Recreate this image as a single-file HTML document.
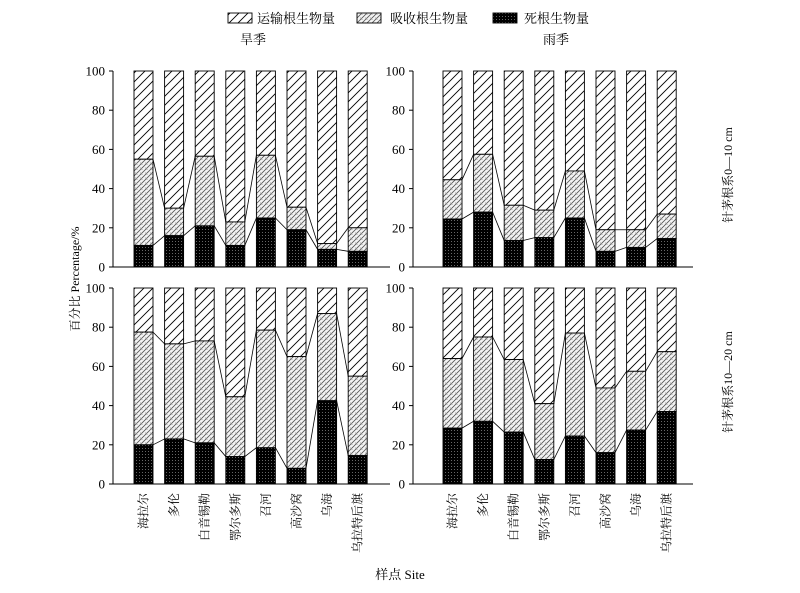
<!DOCTYPE html>
<html><head><meta charset="utf-8"><style>
body{margin:0;background:#fff;}
svg text{font-family:"Liberation Serif","Noto Serif CJK SC",serif;fill:#000;}
</style></head><body>
<svg id="chart" width="800" height="588" viewBox="0 0 800 588" xmlns="http://www.w3.org/2000/svg">
<defs>
<pattern id="pTrans" patternUnits="userSpaceOnUse" width="9" height="9" patternTransform="rotate(0)">
<rect width="9" height="9" fill="#fff"/>
<path d="M0,9 L9,0 M-2,2 L2,-2 M7,11 L11,7" stroke="#000" stroke-width="0.9"/>
</pattern>
<pattern id="pAbs" patternUnits="userSpaceOnUse" width="5" height="5">
<rect width="5" height="5" fill="#f4f4f4"/>
<path d="M0,5 L5,0 M-1,1 L1,-1 M4,6 L6,4" stroke="#555" stroke-width="0.8"/>
<path d="M0,2.5 L2.5,5" stroke="#999" stroke-width="0.6"/>
</pattern>
<pattern id="pDead" patternUnits="userSpaceOnUse" width="3" height="3">
<rect width="3" height="3" fill="#000"/>
<rect x="1" y="1" width="1" height="1" fill="#666"/>
</pattern>
</defs>
<g id="g"></g>
</svg>
<script>
const categories=["海拉尔","多伦","白音锡勒","鄂尔多斯","召河","高沙窝","乌海","乌拉特后旗"];
const yTicks=[0,20,40,60,80,100];
const dryTopDead=[11,16,21,11,25,19,9,8];
const dryTopCum=[55,30,56.5,23,57,30.5,12,20];
const wetTopDead=[24.5,28,13.5,15,25,8,10,14.5];
const wetTopCum=[44.5,57.5,31.5,29,49,19,19,27];
const dryBotDead=[20,23,21,14,18.5,8,42.5,14.5];
const dryBotCum=[77.5,71.5,73,44.5,78.5,65,87,55];
const wetBotDead=[28.5,32,26.5,12.5,24.5,16,27.5,37];
const wetBotCum=[64,75,63.5,41,77,49,57.5,67.5];

const NS="http://www.w3.org/2000/svg";
const root=document.getElementById('g');
function mk(tag,attrs,parent){const e=document.createElementNS(NS,tag);for(const k in attrs)e.setAttribute(k,attrs[k]);(parent||root).appendChild(e);return e;}

const panels=[
 {id:'dry-0-10',ax:113,x0:143.5,y100:71,y0:267,dead:dryTopDead,cum:dryTopCum,xend:390},
 {id:'wet-0-10',ax:413,x0:452.5,y100:71,y0:267,dead:wetTopDead,cum:wetTopCum,xend:693},
 {id:'dry-10-20',ax:113,x0:143.5,y100:288,y0:484,dead:dryBotDead,cum:dryBotCum,xend:390},
 {id:'wet-10-20',ax:413,x0:452.5,y100:288,y0:484,dead:wetBotDead,cum:wetBotCum,xend:693}
];
const step=30.6,bw=19;
panels.forEach((p,pi)=>{
 const grp=mk('g',{});
 
 
 const ys=v=>p.y0-(p.y0-p.y100)*v/100;
 const xs=i=>p.x0+i*step;
 categories.forEach((c,i)=>{
  const x=xs(i)-bw/2;
  const r1=mk('rect',{x:x,y:ys(100),width:bw,height:ys(p.cum[i])-ys(100),fill:'url(#pTrans)',stroke:'#000','stroke-width':0.9},grp);
  
  
  const r2=mk('rect',{x:x,y:ys(p.cum[i]),width:bw,height:ys(p.dead[i])-ys(p.cum[i]),fill:'url(#pAbs)',stroke:'#000','stroke-width':0.9},grp);
  
  
  const r3=mk('rect',{x:x,y:ys(p.dead[i]),width:bw,height:p.y0-ys(p.dead[i]),fill:'url(#pDead)',stroke:'#000','stroke-width':0.9},grp);
  
  
  if(i<categories.length-1){
   const l1=mk('line',{x1:x+bw,y1:ys(p.cum[i]),x2:xs(i+1)-bw/2,y2:ys(p.cum[i+1]),stroke:'#000','stroke-width':0.8},grp);
   
   
   const l2=mk('line',{x1:x+bw,y1:ys(p.dead[i]),x2:xs(i+1)-bw/2,y2:ys(p.dead[i+1]),stroke:'#000','stroke-width':0.8},grp);
   
   
  }
  if(pi>=2){
   const t=mk('text',{x:0,y:0,'font-size':12,'text-anchor':'end',transform:`translate(${xs(i)+4},493) rotate(-90)`},grp);
   t.textContent=c;
   
   
  }
 });
 const ya=mk('line',{x1:p.ax,y1:p.y100,x2:p.ax,y2:p.y0,stroke:'#000','stroke-width':1},grp);
 
 
 const xa=mk('line',{x1:p.ax,y1:p.y0,x2:p.xend,y2:p.y0,stroke:'#000','stroke-width':1},grp);
 
 
 yTicks.forEach(v=>{
  const tk=mk('line',{x1:p.ax-4,y1:ys(v),x2:p.ax,y2:ys(v),stroke:'#000','stroke-width':1},grp);
  
  
  const tl=mk('text',{x:p.ax-8,y:ys(v)+4.5,'font-size':13,'text-anchor':'end'},grp);
  tl.textContent=v;
  
  
 });
});
function txt(s,attrs,name){const t=mk('text',attrs);t.textContent=s;return t;}
// legend
const lg=[[228,'url(#pTrans)','运输根生物量',257,'legend-transport'],[357,'url(#pAbs)','吸收根生物量',390,'legend-absorb'],[493,'url(#pDead)','死根生物量',524,'legend-dead']];
lg.forEach(l=>{
 const r=mk('rect',{x:l[0],y:13,width:24,height:10,fill:l[1],stroke:'#000','stroke-width':0.9});
 
 
 txt(l[2],{x:l[3],y:23,'font-size':13},l[4]+'-label');
});
txt('旱季',{x:240,y:44,'font-size':13},'dry-season-title');
txt('雨季',{x:543,y:44,'font-size':13},'wet-season-title');
txt('针茅根系0—10 cm',{x:0,y:0,'font-size':12,'text-anchor':'middle',transform:'translate(732,175) rotate(-90)'},'row-label-0-10');
txt('针茅根系10—20 cm',{x:0,y:0,'font-size':12,'text-anchor':'middle',transform:'translate(732,382) rotate(-90)'},'row-label-10-20');
txt('百分比 Percentage/%',{x:0,y:0,'font-size':12,'text-anchor':'middle',transform:'translate(79,279) rotate(-90)'},'y-axis-title');
txt('样点 Site',{x:400,y:579,'font-size':13,'text-anchor':'middle'},'x-axis-title');
</script>
</body></html>
